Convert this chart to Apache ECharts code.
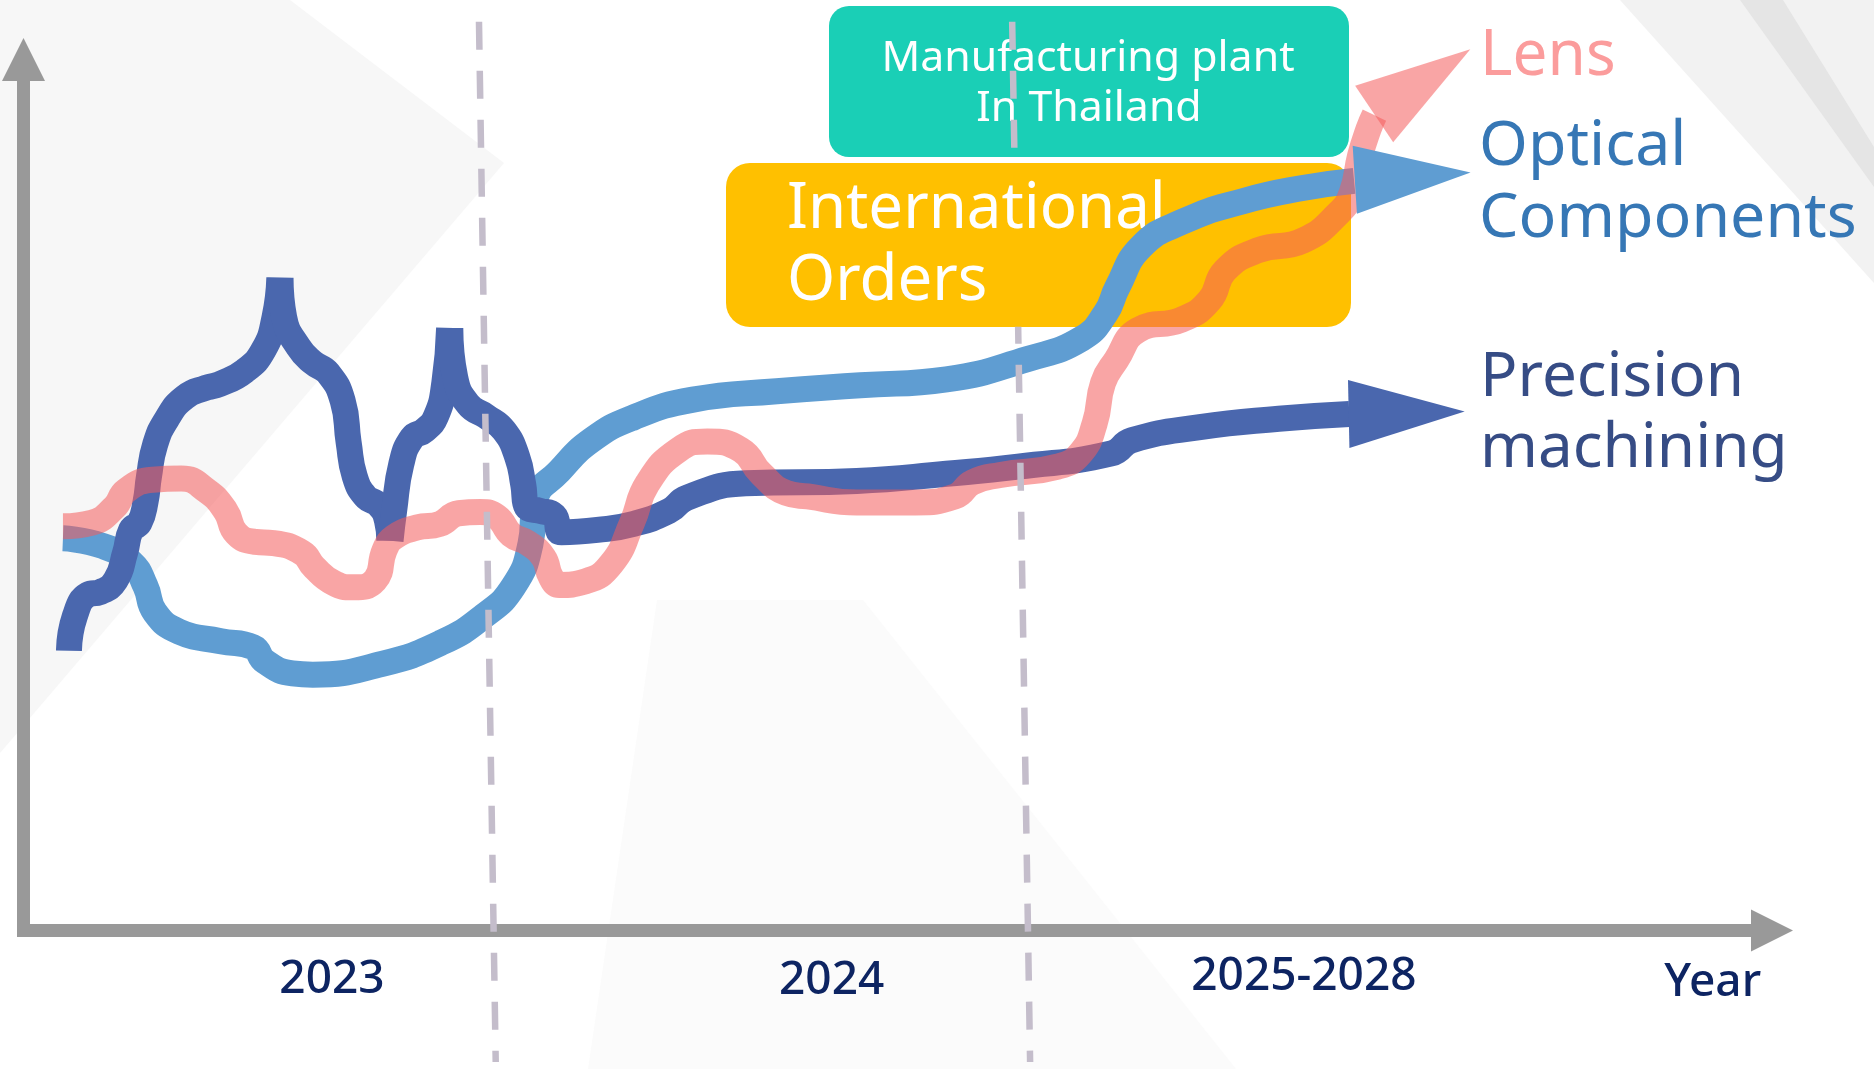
<!DOCTYPE html>
<html>
<head>
<meta charset="utf-8">
<title>Product roadmap</title>
<script src="https://cdn.jsdelivr.net/npm/echarts@6/dist/echarts.min.js"></script>
<style>
html, body { margin: 0; padding: 0; background: #fff; }
#main { width: 1874px; height: 1069px; }
</style>
</head>
<body>
<div id="main"></div>
<script>
// axis units: x 0 - 144.5, y 0 - 71
var yearLabels = ['2023', '2024', '2025-2028', 'Year']
var yearPos = [25.8, 67.6, 107.1, 141.3]
var yearLevel = [-4.1, -4.2, -3.9, -4.4]

var lens = [
	[3.3, 33.8], [5.7, 34.1], [7.6, 35.4], [8.6, 36.8], [10.8, 37.7], [13.2, 37.8], [15.3, 36.8],
	[16.9, 35.1], [17.8, 33.2], [19.4, 32.5], [20.9, 32.4], [23.3, 31.6], [24.3, 30.4], [25.9, 29.1],
	[27.6, 28.7], [29.4, 29.3], [30.2, 31.8], [31.0, 32.9], [32.9, 33.7], [34.8, 34.0], [36.4, 34.9],
	[38.2, 35.0], [39.6, 34.6], [40.8, 33.1], [42.2, 32.4], [43.5, 31.2], [44.1, 29.6], [44.8, 28.9],
	[47.0, 29.2], [49.2, 30.7], [50.9, 34.1], [52.2, 37.4], [54.8, 40.2], [57.2, 40.9], [60.0, 40.2],
	[61.7, 38.2], [63.8, 36.6], [65.6, 36.3], [69.7, 35.8], [74.6, 35.8], [77.9, 36.3], [79.4, 37.5],
	[81.7, 38.1], [86.5, 38.8], [88.4, 39.9], [89.6, 42.4], [90.3, 45.8], [91.4, 47.7], [93.2, 50.2],
	[96.9, 51.1], [99.2, 52.7], [100.5, 55.2], [103.3, 56.9], [107.0, 57.7], [110.0, 60.0], [111.1, 61.7],
	[111.8, 64.8], [112.5, 67.0], [113.0, 68.2]
]

var optical = [
	[3.3, 32.8], [6.5, 32.2], [9.0, 30.8], [10.2, 28.8], [11.0, 26.6], [13.0, 25.0], [16.5, 24.2],
	[19.2, 23.7], [20.2, 22.5], [22.5, 21.5], [24.2, 21.4], [30.0, 22.3], [35.0, 24.1], [38.5, 26.3],
	[41.0, 28.8], [42.4, 32.3], [42.8, 36.0], [44.8, 38.4], [47.5, 41.0], [51.0, 42.9], [56.0, 44.4],
	[63.0, 45.1], [70.0, 45.6], [77.2, 46.1], [84.0, 47.8], [88.5, 49.5], [90.5, 51.6], [91.5, 53.8],
	[93.5, 57.2], [97.0, 59.3], [102.0, 61.0], [107.0, 62.1], [111.3, 62.7]
]

// precision machining is drawn in four strokes (the spires meet at flat tops)
var precision1 = [
	[3.8, 23.4], [4.3, 26.3], [5.4, 28.1], [6.4, 28.3], [7.7, 29.3], [8.5, 31.6], [9.0, 33.5],
	[9.7, 34.1], [10.2, 35.8], [10.5, 38.0], [11.0, 40.6], [12.0, 42.8], [13.5, 44.6], [15.3, 45.4],
	[16.4, 45.7], [18.5, 46.8], [20.1, 48.6], [21.0, 51.3], [21.4, 54.6]
]
var precision2 = [
	[21.5, 54.6], [21.8, 51.3], [23.0, 48.8], [24.2, 47.5], [25.5, 46.6], [26.7, 44.3], [27.2, 40.8],
	[27.7, 38.0], [28.6, 36.3], [29.7, 35.6], [30.4, 34.3], [30.6, 32.6]
]
var precision3 = [
	[30.7, 32.6], [31.0, 35.1], [31.6, 39.0], [32.5, 41.2], [33.5, 41.8], [34.5, 43.0], [35.2, 45.8],
	[35.6, 50.4]
]
var precision4 = [
	[35.7, 50.4], [36.1, 46.3], [37.2, 44.0], [38.7, 43.0], [40.2, 41.8], [41.3, 39.6], [41.8, 37.3],
	[42.1, 35.4], [43.2, 35.1], [44.4, 34.7], [45.0, 33.3], [48.0, 33.5], [51.0, 34.0], [54.0, 35.1],
	[55.5, 36.2], [60.4, 37.4], [69.7, 37.6], [77.2, 38.2], [83.2, 38.8], [91.0, 39.9], [92.7, 41.0],
	[98.4, 42.1], [105.0, 42.8], [110.9, 43.2]
]

// arrow heads: lens, optical, precision
var arrowX = [117.0, 116.2, 115.7]
var arrowY = [71.0, 63.1, 43.3]
var arrowAngle = [-56, -86.4, -88.8]

// year dividers (the 2024 one is hidden behind the orders box)
var divider1 = [[38.1, 76.0], [39.5, -11.0]]
var divider2Top = [[82.7, 76.0], [82.9, 64.2]]
var divider2Bottom = [[83.2, 50.5], [84.2, -11.0]]

var lensColor = 'rgba(244,91,91,0.55)'
var opticalColor = '#5f9dd2'
var precisionColor = '#4a67ae'
var arrowColor = [lensColor, opticalColor, precisionColor]

function curve(data, color, z) {
	return {
		type: 'line',
		data: data,
		smooth: 0.5,
		symbol: 'none',
		clip: false,
		silent: true,
		z: z,
		lineStyle: { color: color, width: 26, cap: 'butt', join: 'round' }
	}
}

function divider(data, offset) {
	return {
		type: 'line',
		data: data,
		symbol: 'none',
		clip: false,
		silent: true,
		z: 5,
		lineStyle: { color: '#c4bdcb', width: 6.5, type: [28, 21], dashOffset: offset, cap: 'butt' }
	}
}

function label(text, x, y, size, color, align, sx, z) {
	return {
		type: 'text', x: x, y: y, scaleX: sx, z: z, silent: true,
		style: {
			text: text, fill: color, font: size + 'px "Noto Sans"',
			textAlign: align, align: align, textVerticalAlign: 'middle', verticalAlign: 'middle'
		}
	}
}

var axisLineStyle = { color: '#999999', width: 13, cap: 'square' }

var myChart = echarts.init(document.getElementById('main'))
var option = {
	backgroundColor: '#ffffff',
	animation: false,
	grid: { left: 23.5, right: 123, top: 81, bottom: 138.5, containLabel: false, outerBoundsMode: 'none' },
	xAxis: {
		type: 'value', min: 0, max: 144.5,
		axisLine: { show: true, symbol: ['none', 'triangle'], symbolSize: [42, 42], symbolOffset: [0, 21], lineStyle: axisLineStyle },
		axisTick: { show: false },
		axisLabel: { show: false },
		splitLine: { show: false }
	},
	yAxis: {
		type: 'value', min: 0, max: 71.05,
		axisLine: { show: true, symbol: ['none', 'triangle'], symbolSize: [43, 43], symbolOffset: [0, 21.5], lineStyle: axisLineStyle },
		axisTick: { show: false },
		axisLabel: { show: false },
		splitLine: { show: false }
	},
	graphic: {
		elements: [
			{ type: 'polygon', z: -1, silent: true, shape: { points: [[0, 0], [290, 0], [504, 163], [0, 753]] }, style: { fill: '#f7f7f7' } },
			{ type: 'polygon', z: -1, silent: true, shape: { points: [[657, 600], [863, 600], [1236, 1069], [588, 1069]] }, style: { fill: '#fbfbfb' } },
			{ type: 'polygon', z: -1, silent: true, shape: { points: [[1620, 0], [1874, 0], [1874, 283]] }, style: { fill: '#f2f2f2' } },
			{ type: 'polygon', z: -1, silent: true, shape: { points: [[1740, 0], [1783, 0], [1874, 147], [1874, 187]] }, style: { fill: '#e5e5e5' } },
			{ type: 'rect', z: 1, silent: true, shape: { x: 829, y: 6, width: 520, height: 151, r: 20 }, style: { fill: '#1acfb6' } },
			{ type: 'rect', z: 1, silent: true, shape: { x: 726, y: 163, width: 625, height: 164, r: 24 }, style: { fill: '#ffc000' } },
			label('Manufacturing plant', 1088, 59, 42, '#ffffff', 'center', 1.02, 2),
			label('In Thailand', 1089, 109, 42, '#ffffff', 'center', 1.02, 2),
			label('International', 787, 210.5, 63, '#ffffff', 'left', 0.98, 1),
			label('Orders', 787, 282.5, 63, '#ffffff', 'left', 0.98, 1),
			label('Lens', 1480, 56.7, 64, '#fb9c9c', 'left', 0.97, 10),
			label('Optical', 1479, 147.3, 62, '#3677b5', 'left', 1.01, 10),
			label('Components', 1479, 219.8, 62, '#3677b5', 'left', 1.01, 10),
			label('Precision', 1480, 378.8, 62, '#364c85', 'left', 1.0, 10),
			label('machining', 1480, 449.8, 62, '#364c85', 'left', 1.0, 10)
		]
	},
	series: [
		curve(optical, opticalColor, 2),
		curve(precision1, precisionColor, 3),
		curve(precision2, precisionColor, 3),
		curve(precision3, precisionColor, 3),
		curve(precision4, precisionColor, 3),
		curve(lens, lensColor, 4),
		divider(divider1, 0),
		divider(divider2Top, 0),
		divider(divider2Bottom, 11),
		{
			type: 'scatter',
			z: 6,
			silent: true,
			clip: false,
			symbol: 'triangle',
			symbolSize: [68, 116],
			data: arrowX.map(function(x, i) {
				return { value: [x, arrowY[i]], symbolRotate: arrowAngle[i], itemStyle: { color: arrowColor[i], opacity: 1 } }
			})
		},
		{
			// year labels under the time axis
			type: 'scatter',
			z: 6,
			silent: true,
			clip: false,
			symbolSize: 0,
			itemStyle: { opacity: 1 },
			data: yearPos.map(function(x, i) { return [x, yearLevel[i]] }),
			label: {
				show: true,
				position: 'inside',
				formatter: function(p) { return yearLabels[p.dataIndex] },
				color: '#0d2462',
				opacity: 1,
				fontSize: 46,
				fontWeight: 500,
				fontFamily: 'Noto Sans'
			}
		}
	]
}
myChart.setOption(option)
</script>
</body>
</html>
